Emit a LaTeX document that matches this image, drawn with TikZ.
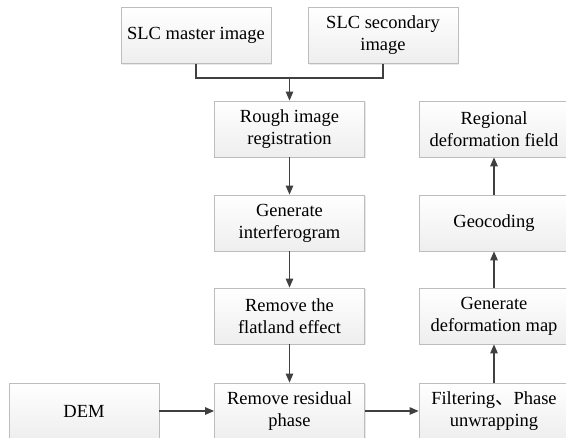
\documentclass[tikz,border=0pt]{standalone}
\usepackage{fontspec}
\setmainfont{Liberation Serif}
\newfontfamily\cjk{Noto Sans CJK SC}
\usepackage{xcolor}
\usepackage{tikz}
\usetikzlibrary{positioning}
\usetikzlibrary{arrows.meta, shadows}

\definecolor{boxline}{HTML}{BDBDBD}
\definecolor{boxfill}{HTML}{EEEEEE}
\definecolor{linkline}{HTML}{404040}

\tikzset{
    stepbox/.style={rectangle, draw=boxline, line width=0.8pt,
        top color=white, bottom color=boxfill,
        drop shadow={opacity=0.18, shadow xshift=1.2pt, shadow yshift=-1.2pt},
        minimum width=150pt, minimum height=56pt, align=center,
        font=\fontsize{18.5}{22}\selectfont, text=black},
    link/.style={draw=linkline, line width=1.1pt},
    flow/.style={link, -{Triangle[length=9pt, width=7.5pt]}}
}

\begin{document}
\begin{tikzpicture}[x=1pt, y=-1pt]
        \fill[white] (0,0) rectangle (566,438);
        \useasboundingbox (0,0) rectangle (566,438);
        % input images
        \node[stepbox] (master) at (196,35.5) {SLC master image};
        \node[stepbox] (secondary) at (383,35.5) {SLC secondary\\image};
        % main chain
        \node[stepbox] (rough) at (289.5,129) {Rough image\\registration};
        \node[stepbox] (interf) at (289.5,223) {Generate\\interferogram};
        \node[stepbox] (flat) at (289.5,316) {Remove the\\flatland effect};
        \node[stepbox] (resid) at (289.5,411) {Remove residual\\phase};
        \node[stepbox] (dem) at (84,411) {DEM};
        % right column
        \node[stepbox] (filter) at (494,411) {Filtering{\cjk 、}Phase\\unwrapping};
        \node[stepbox] (defmap) at (494,316) {Generate\\deformation map};
        \node[stepbox] (geo) at (494,223) {Geocoding};
        \node[stepbox] (field) at (494,129) {Regional\\deformation field};

        \coordinate (join) at (289.5,78);
        \draw[link] (master.south) |- (join) -| (secondary.south);
        \draw[flow] (join) -- (rough.north);
        \draw[flow] (rough) -- (interf);
        \draw[flow] (interf) -- (flat);
        \draw[flow] (flat) -- (resid);
        \draw[flow] (dem) -- (resid);
        \draw[flow] (resid) -- (filter);
        \draw[flow] (filter) -- (defmap);
        \draw[flow] (defmap) -- (geo);
        \draw[flow] (geo) -- (field);
    \end{tikzpicture}
\end{document}
